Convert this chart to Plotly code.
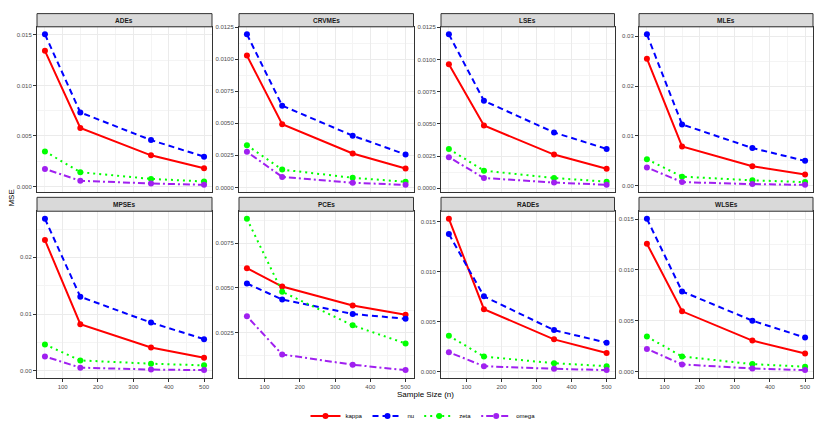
import plotly.graph_objects as go

W, H = 826, 431

sample_sizes = [50, 150, 350, 500]
estimators = ["ADEs", "CRVMEs", "LSEs", "MLEs", "MPSEs", "PCEs", "RADEs", "WLSEs"]
params = ["kappa", "nu", "zeta", "omega"]

kappa = {
    "ADEs":   [0.01343, 0.00580, 0.00308, 0.00180],
    "CRVMEs": [0.01029, 0.00494, 0.00265, 0.00147],
    "LSEs":   [0.00963, 0.00487, 0.00261, 0.00151],
    "MLEs":   [0.02550, 0.00788, 0.00390, 0.00225],
    "MPSEs":  [0.02304, 0.00819, 0.00410, 0.00228],
    "PCEs":   [0.00610, 0.00508, 0.00403, 0.00351],
    "RADEs":  [0.01527, 0.00625, 0.00324, 0.00188],
    "WLSEs":  [0.01258, 0.00592, 0.00304, 0.00176],
}
nu = {
    "ADEs":   [0.01506, 0.00733, 0.00459, 0.00295],
    "CRVMEs": [0.01195, 0.00638, 0.00404, 0.00257],
    "LSEs":   [0.01195, 0.00679, 0.00433, 0.00305],
    "MLEs":   [0.03040, 0.01230, 0.00755, 0.00497],
    "MPSEs":  [0.02680, 0.01304, 0.00848, 0.00556],
    "PCEs":   [0.00525, 0.00436, 0.00355, 0.00329],
    "RADEs":  [0.01375, 0.00753, 0.00416, 0.00291],
    "WLSEs":  [0.01503, 0.00788, 0.00500, 0.00333],
}
zeta = {
    "ADEs":   [0.00347, 0.00141, 0.00075, 0.00049],
    "CRVMEs": [0.00329, 0.00139, 0.00075, 0.00044],
    "LSEs":   [0.00305, 0.00136, 0.00079, 0.00051],
    "MLEs":   [0.00530, 0.00180, 0.00106, 0.00070],
    "MPSEs":  [0.00462, 0.00181, 0.00123, 0.00094],
    "PCEs":   [0.00885, 0.00479, 0.00292, 0.00191],
    "RADEs":  [0.00360, 0.00152, 0.00086, 0.00056],
    "WLSEs":  [0.00343, 0.00147, 0.00072, 0.00046],
}
omega = {
    "ADEs":   [0.00174, 0.00056, 0.00030, 0.00016],
    "CRVMEs": [0.00278, 0.00082, 0.00036, 0.00020],
    "LSEs":   [0.00241, 0.00079, 0.00044, 0.00026],
    "MLEs":   [0.00364, 0.00070, 0.00030, 0.00015],
    "MPSEs":  [0.00251, 0.00053, 0.00020, 0.00010],
    "PCEs":   [0.00342, 0.00130, 0.00073, 0.00043],
    "RADEs":  [0.00195, 0.00056, 0.00030, 0.00017],
    "WLSEs":  [0.00222, 0.00069, 0.00029, 0.00013],
}
series_data = {"kappa": kappa, "nu": nu, "zeta": zeta, "omega": omega}

y_dtick = {"ADEs": 0.005, "CRVMEs": 0.0025, "LSEs": 0.0025, "MLEs": 0.01,
           "MPSEs": 0.01, "PCEs": 0.0025, "RADEs": 0.005, "WLSEs": 0.005}
y_fmt = {"ADEs": ".3f", "CRVMEs": ".4f", "LSEs": ".4f", "MLEs": ".2f",
         "MPSEs": ".2f", "PCEs": ".4f", "RADEs": ".3f", "WLSEs": ".3f"}

colors = {"kappa": "#FF0000", "nu": "#0000FF", "zeta": "#00FF00", "omega": "#A020F0"}
dashes = {"kappa": "solid", "nu": "6px,4px", "zeta": "2px,4px", "omega": "2px,3px,7px,3px"}

# layout geometry (pixels)
col_x = [(37, 212), (239, 413.5), (441, 614.5), (639, 813)]
row_plot = [(25, 191.7), (210.7, 378.3)]
row_strip = [(11.7, 25), (196.7, 210.7)]

def fx(p):
    return p / W

def fy(p):
    return 1 - p / H

font_family = "Liberation Sans, Arial, sans-serif"
fig = go.Figure()
layout = dict(
    width=W, height=H,
    margin=dict(l=0, r=0, t=0, b=0),
    paper_bgcolor="white", plot_bgcolor="white",
    font=dict(family=font_family, size=6, color="#4D4D4D"),
    showlegend=True,
)
shapes = []
annotations = []

for i, est in enumerate(estimators):
    r, c = divmod(i, 4)
    k = i + 1
    xa = "x" if k == 1 else f"x{k}"
    ya = "y" if k == 1 else f"y{k}"
    for p in params:
        fig.add_trace(go.Scatter(
            x=sample_sizes, y=series_data[p][est],
            mode="lines+markers", name=p, legendgroup=p,
            showlegend=(i == 0),
            line=dict(color=colors[p], width=2, dash=dashes[p]),
            marker=dict(color=colors[p], size=6),
            xaxis=xa, yaxis=ya,
        ))
    allv = [v for p in params for v in series_data[p][est]]
    lo, hi = min(allv), max(allv)
    pad = 0.05 * (hi - lo)
    x0, x1 = col_x[c]
    y0, y1 = row_plot[r]
    layout[f"xaxis{'' if k == 1 else k}"] = dict(
        domain=[fx(x0), fx(x1)], anchor=ya,
        range=[50 - 0.05 * 450, 500 + 0.05 * 450],
        tick0=0, dtick=100,
        showgrid=True, gridcolor="#EBEBEB", gridwidth=1,
        minor=dict(tick0=0, dtick=50, showgrid=True, gridcolor="#F4F4F4", gridwidth=0.5),
        showline=True, mirror=True, linecolor="#333333", linewidth=1,
        ticks="outside" if r == 1 else "", ticklen=3, tickcolor="#333333",
        showticklabels=(r == 1), zeroline=False,
        tickfont=dict(size=6, color="#4D4D4D"),
    )
    layout[f"yaxis{'' if k == 1 else k}"] = dict(
        domain=[fy(y1), fy(y0)], anchor=xa,
        range=[lo - pad, hi + pad],
        tick0=0, dtick=y_dtick[est], tickformat=y_fmt[est],
        showgrid=True, gridcolor="#EBEBEB", gridwidth=1,
        minor=dict(tick0=0, dtick=y_dtick[est] / 2, showgrid=True, gridcolor="#F4F4F4", gridwidth=0.5),
        showline=True, mirror=True, linecolor="#333333", linewidth=1,
        ticks="outside", ticklen=3, tickcolor="#333333",
        zeroline=False, tickfont=dict(size=6, color="#4D4D4D"),
    )
    s0, s1 = row_strip[r]
    shapes.append(dict(type="rect", xref="paper", yref="paper",
                       x0=fx(x0), x1=fx(x1), y0=fy(s1), y1=fy(s0),
                       fillcolor="#D9D9D9", line=dict(color="#333333", width=1)))
    annotations.append(dict(text=f"<b>{est}</b>", xref="paper", yref="paper",
                            x=fx((x0 + x1) / 2), y=fy((s0 + s1) / 2),
                            xanchor="center", yanchor="middle", showarrow=False,
                            font=dict(size=6.5, color="#1A1A1A", family=font_family)))

annotations.append(dict(text="Sample Size (n)", xref="paper", yref="paper",
                        x=fx(425), y=fy(395), xanchor="center", yanchor="middle",
                        showarrow=False, font=dict(size=8, color="black", family=font_family)))
annotations.append(dict(text="MSE", xref="paper", yref="paper",
                        x=fx(12), y=fy(198), xanchor="center", yanchor="middle",
                        textangle=-90, showarrow=False,
                        font=dict(size=8, color="black", family=font_family)))

layout["shapes"] = shapes
layout["annotations"] = annotations
layout["legend"] = dict(orientation="h", x=fx(423), xanchor="center",
                        y=fy(417), yanchor="middle",
                        font=dict(size=6, color="black", family=font_family),
                        itemwidth=30, tracegroupgap=0, bgcolor="rgba(0,0,0,0)")
fig.update_layout(**layout)
fig.write_html("out.html", config={"displayModeBar": False},
               post_script="document.body.style.margin='0';document.body.style.overflow='hidden';")
